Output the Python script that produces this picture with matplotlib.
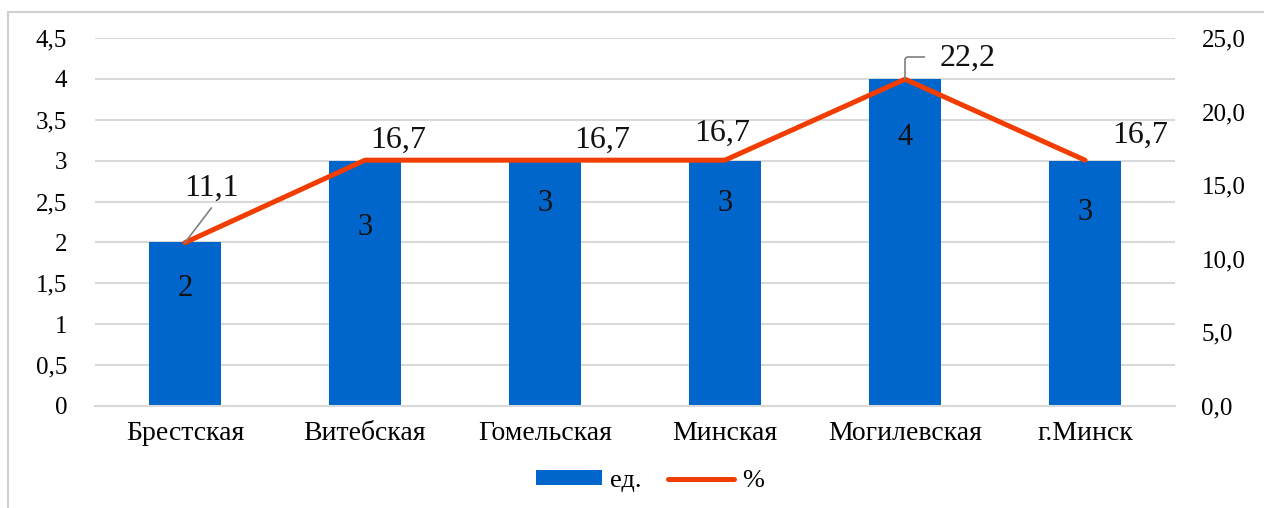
import numpy as np
import matplotlib.pyplot as plt
from matplotlib.patches import Rectangle
from matplotlib.ticker import FuncFormatter

plt.rcParams['font.family'] = ['Liberation Serif', 'DejaVu Serif']

regions = ['Брестская', 'Витебская', 'Гомельская', 'Минская', 'Могилевская', 'г.Минск']
units = [2, 3, 3, 3, 4, 3]
percent = [11.1, 16.7, 16.7, 16.7, 22.2, 16.7]

BAR_COLOR = '#0066CC'
LINE_COLOR = '#F23D00'
GRID_COLOR = '#D9D9D9'

# label placement (offset points from the marker)
pct_offsets = [(19, 39), (24, 14), (41, 14), (-2, 19), (45, 15), (40, 18)]
unit_drop = [33, 48, 31, 31, 42, 37]

fig = plt.figure(figsize=(12.64, 5.08), dpi=100)
fig.patches.append(Rectangle((8 / 1264, -0.1), 1.2, (508 - 12) / 508 + 0.1,
                             transform=fig.transFigure, fill=False,
                             edgecolor='#D0D0D0', linewidth=1.5))

ax = fig.add_axes([95 / 1264, 102 / 508, 1080 / 1264, 368 / 508])
ax2 = ax.twinx()

x = np.arange(len(regions))
bars = ax.bar(x, units, width=0.4, color=BAR_COLOR, zorder=2, label='ед.')
ax.set_xlim(-0.5, len(regions) - 0.5)
ax.set_ylim(0, 4.5)
ax.set_yticks(np.arange(0, 4.51, 0.5))
ax.yaxis.set_major_formatter(FuncFormatter(lambda v, p: f'{v:g}'.replace('.', ',')))
ax.grid(axis='y', color=GRID_COLOR, linewidth=1.5, zorder=0)
ax.set_axisbelow(True)
ax.set_xticks(x)
ax.set_xticklabels(regions, fontsize=20)
ax.tick_params(axis='x', length=0, pad=11)
ax.tick_params(axis='y', length=0, pad=20, labelsize=18)
for s in ['top', 'right', 'left']:
    ax.spines[s].set_visible(False)
ax.spines['bottom'].set_color(GRID_COLOR)
ax.spines['bottom'].set_linewidth(1.5)

for xi, v, d in zip(x, units, unit_drop):
    ax.annotate(str(v), xy=(xi, v), xytext=(0, -d), textcoords='offset points',
                ha='center', va='center', fontsize=22, color='#111111', zorder=4)

line, = ax2.plot(x, percent, color=LINE_COLOR, linewidth=3.6, zorder=3,
                 solid_capstyle='round', label='%')
ax2.set_ylim(0, 25)
ax2.set_yticks(np.arange(0, 25.1, 5))
ax2.yaxis.set_major_formatter(FuncFormatter(lambda v, p: f'{v:.1f}'.replace('.', ',')))
ax2.tick_params(axis='y', length=0, pad=19, labelsize=18)
for s in ax2.spines.values():
    s.set_visible(False)

for xi, v, off in zip(x, percent, pct_offsets):
    ax2.annotate(f'{v:.1f}'.replace('.', ','), xy=(xi, v), xytext=off,
                 textcoords='offset points', ha='center', va='center',
                 fontsize=23, color='#111111', zorder=5)

# leader lines for the two moved labels
ax2.annotate('', xy=(x[0], percent[0]), xytext=(19, 25), textcoords='offset points',
             arrowprops=dict(arrowstyle='-', color='#808080', lw=1.2,
                             shrinkA=0, shrinkB=0))
ax2.annotate('', xy=(x[4], percent[4]), xytext=(14, 16), textcoords='offset points',
             arrowprops=dict(arrowstyle='-', color='#808080', lw=1.2,
                             shrinkA=0, shrinkB=0,
                             connectionstyle='angle,angleA=0,angleB=90,rad=3'))

fig.legend(handles=[bars, line], labels=['ед.', '%'], loc='center',
           bbox_to_anchor=(650 / 1264, 1 - 481 / 508), ncol=2, frameon=False,
           fontsize=19, handlelength=2.5, handleheight=0.5, columnspacing=1.0,
           handletextpad=0.3)

fig.savefig('out.png', dpi=100)
